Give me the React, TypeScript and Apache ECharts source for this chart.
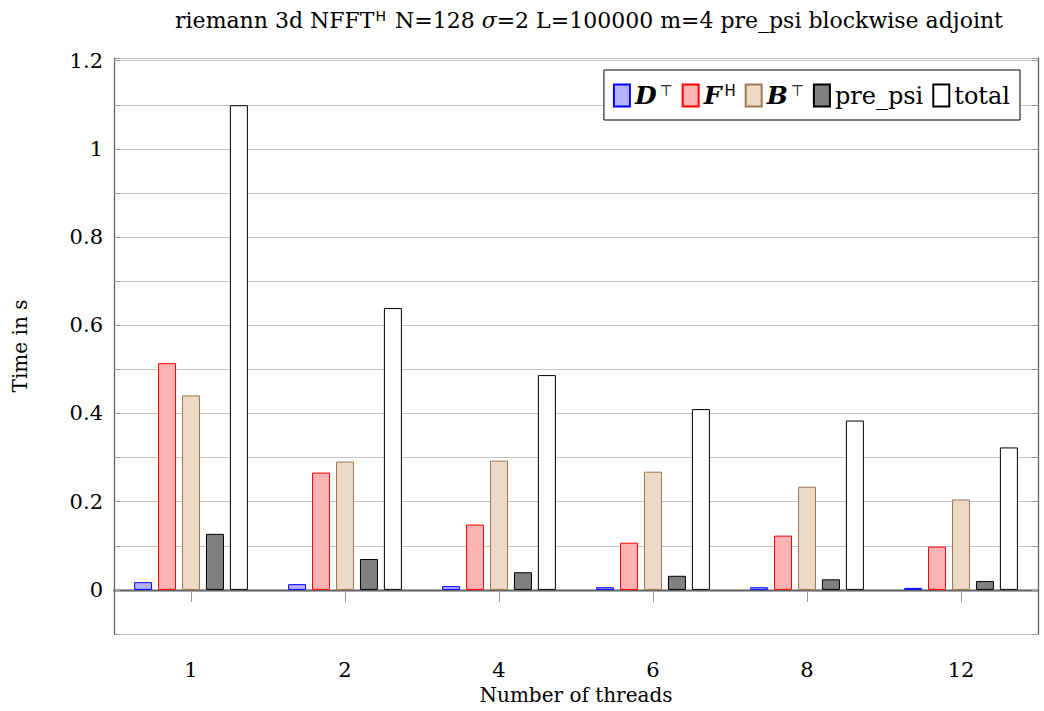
import React, { useEffect, useRef } from "react";
import * as echarts from "echarts";

const categories = ["1", "2", "4", "6", "8", "12"];
const seriesNames = ["D", "F", "B", "pre_psi", "total"];
const dValues = [0.0175, 0.013, 0.0085, 0.006, 0.006, 0.0046];
const fValues = [0.514, 0.266, 0.148, 0.107, 0.123, 0.098];
const bValues = [0.441, 0.291, 0.293, 0.268, 0.234, 0.205];
const prePsiValues = [0.127, 0.07, 0.04, 0.032, 0.024, 0.02];
const totalValues = [1.099, 0.639, 0.487, 0.41, 0.384, 0.323];

const FONT = "'DejaVu Serif', serif";

export default function App() {
  const ref = useRef<HTMLDivElement>(null);
  useEffect(() => {
    if (!ref.current) return;
    const chart = echarts.init(ref.current, null, { renderer: "svg" });
    const values = [dValues, fValues, bValues, prePsiValues, totalValues];
    const fills = ["#b3b3ff", "#ffb3b3", "#ecd9c6", "#808080", "#ffffff"];
    const borders = ["#0000ff", "#ff0000", "#a0784f", "#000000", "#000000"];
    const legendText: Record<string, string> = {
      D: "{b|D}{sup|⊤}",
      F: "{b|F}{supH|H}",
      B: "{b|B}{sup|⊤}",
      pre_psi: "{n|pre_psi}",
      total: "{n|total}",
    };
    const yLabel = (v: number) => {
      const t = Math.round(v * 10);
      if (Math.abs(v * 10 - t) > 1e-6) return "";
      if (t % 2 !== 0 || t < 0) return "";
      return String(t / 10);
    };
    chart.setOption({
      animation: false,
      backgroundColor: "#ffffff",
      title: {
        text: "riemann 3d NFFT{supH|H} N=128 {i|σ}=2 L=100000 m=4 pre_psi blockwise adjoint",
        left: 584,
        textAlign: "center",
        top: 4,
        textStyle: {
          fontFamily: FONT,
          fontSize: 22,
          fontWeight: "normal",
          color: "#000",
          rich: {
            supH: { fontFamily: "'DejaVu Sans', sans-serif", fontSize: 14, verticalAlign: "top", padding: [0, 2, 9, 1] },
            i: { fontFamily: FONT, fontStyle: "italic", fontSize: 22 },
          },
        },
      },
      legend: {
        data: seriesNames,
        icon: "rect",
        right: 24,
        top: 70,
        orient: "horizontal",
        backgroundColor: "#ffffff",
        borderColor: "#000000",
        borderWidth: 1,
        padding: [13, 10, 12, 9],
        itemWidth: 16,
        itemHeight: 22,
        itemGap: 9,
        formatter: (name: string) => legendText[name] || name,
        textStyle: {
          fontFamily: FONT,
          fontSize: 24,
          color: "#000",
          padding: [0, 0, 0, 0],
          rich: {
            b: { fontFamily: FONT, fontStyle: "italic", fontWeight: "bold", fontSize: 25 },
            sup: { fontFamily: "'DejaVu Sans', sans-serif", fontSize: 15, verticalAlign: "top", padding: [0, 0, 9, 3] },
            supH: { fontFamily: "'DejaVu Sans', sans-serif", fontSize: 15, verticalAlign: "top", padding: [0, 0, 9, 3] },
            n: { fontFamily: FONT, fontSize: 24 },
          },
        },
      },
      grid: { left: 114, right: 6, top: 58, bottom: 77, containLabel: false },
      xAxis: [
        {
          type: "category",
          data: categories,
          position: "bottom",
          name: "Number of threads",
          nameLocation: "middle",
          nameGap: 50,
          nameTextStyle: { fontFamily: FONT, fontSize: 20, color: "#000" },
          axisLine: { lineStyle: { color: "#000", width: 1.3 } },
          axisTick: { show: true, alignWithLabel: true, length: 12, lineStyle: { color: "#999" } },
          axisLabel: { fontFamily: FONT, fontSize: 21, color: "#000", margin: 25 },
          splitLine: { show: false },
        },
        {
          type: "category",
          data: categories,
          position: "top",
          axisLine: { lineStyle: { color: "#666", width: 1.3 } },
          axisTick: { show: true, alignWithLabel: true, length: 12, lineStyle: { color: "#999" } },
          axisLabel: { show: false },
          splitLine: { show: false },
        },
      ],
      yAxis: [
        {
          type: "value",
          min: -0.1,
          max: 1.206,
          interval: 0.1,
          position: "left",
          name: "Time in s",
          nameLocation: "middle",
          nameGap: 84,
          nameRotate: 90,
          nameTextStyle: { fontFamily: FONT, fontSize: 20, color: "#000" },
          axisLine: { show: true, lineStyle: { color: "#666", width: 1.3 } },
          axisTick: { show: true, inside: true, length: 6, lineStyle: { color: "#999" } },
          axisLabel: { fontFamily: FONT, fontSize: 21, color: "#000", margin: 11, formatter: yLabel },
          splitLine: { show: true, lineStyle: { color: "#c4c4c4", width: 1 } },
        },
        {
          type: "value",
          min: -0.1,
          max: 1.206,
          interval: 0.1,
          position: "right",
          axisLine: { show: true, lineStyle: { color: "#666", width: 1.3 } },
          axisTick: { show: true, inside: true, length: 6, lineStyle: { color: "#999" } },
          axisLabel: { show: false },
          splitLine: { show: false },
        },
      ],
      series: seriesNames.map((name, i) => ({
        name,
        type: "bar",
        xAxisIndex: 0,
        yAxisIndex: 0,
        data: values[i],
        barWidth: 18,
        barGap: "33%",
        itemStyle: { color: fills[i], borderColor: borders[i], borderWidth: 1 },
      })),
    });
    return () => chart.dispose();
  }, []);
  return <div ref={ref} style={{ width: 1044, height: 711, position: "absolute", left: 0, top: 0 }} />;
}
